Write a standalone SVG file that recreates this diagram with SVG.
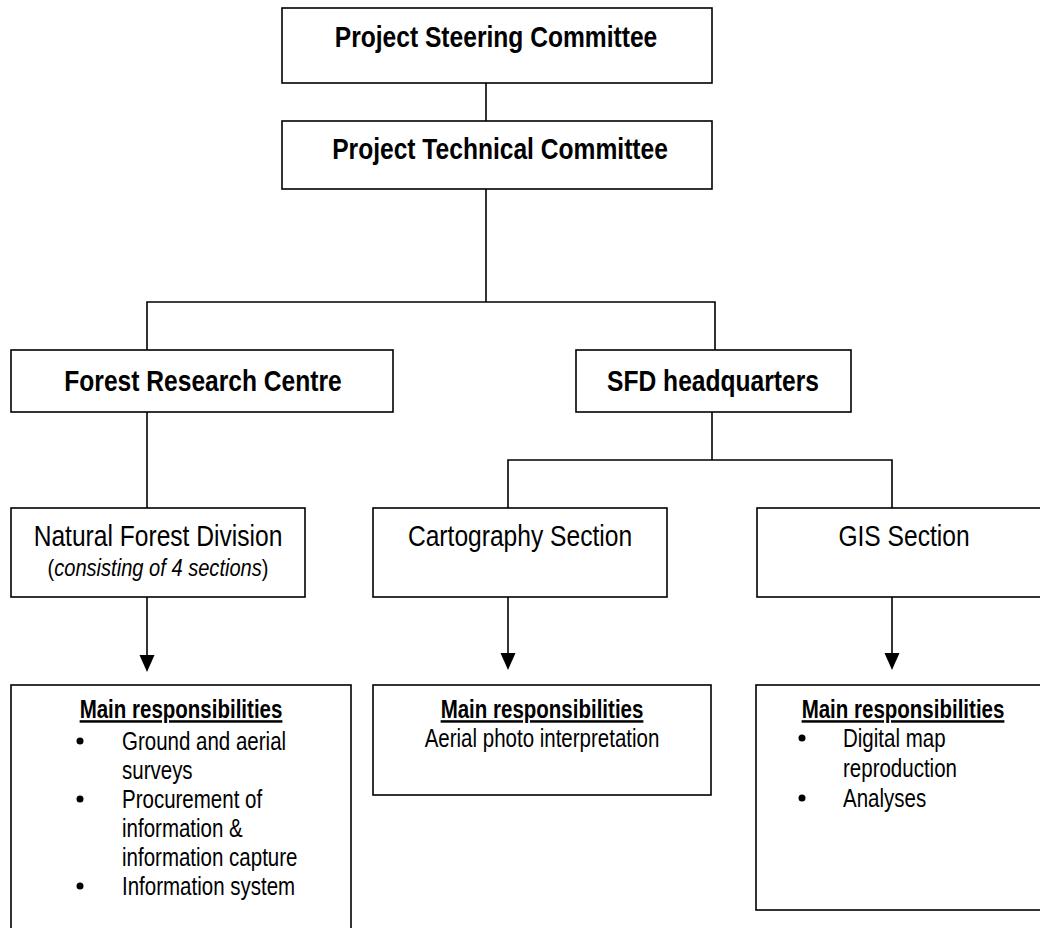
<svg xmlns="http://www.w3.org/2000/svg" width="1040" height="928" viewBox="0 0 1040 928">
<style>
  .box { fill: #ffffff; stroke: #000000; stroke-width: 1.6; }
  .ln { fill: none; stroke: #000000; stroke-width: 1.6; }
  text { font-family: "Liberation Sans", Arial, sans-serif; fill: #000000; }
  .hb { font-size: 30px; font-weight: bold; text-anchor: middle; }
  .hr { font-size: 30px; text-anchor: middle; }
  .it { font-size: 24.5px; text-anchor: middle; }
  .rt { font-size: 25px; font-weight: bold; text-anchor: middle; text-decoration: underline; }
  .rr { font-size: 25px; }
  .rc { font-size: 25px; text-anchor: middle; }
</style>
<g id="connectors">
  <line class="ln" x1="486" y1="83" x2="486" y2="121"/>
  <line class="ln" x1="486" y1="189" x2="486" y2="302"/>
  <polyline class="ln" points="147,350 147,302 715,302 715,350"/>
  <line class="ln" x1="147" y1="412" x2="147" y2="508"/>
  <line class="ln" x1="712" y1="412" x2="712" y2="460"/>
  <polyline class="ln" points="508,508 508,460 892,460 892,508"/>
  <path class="ln" d="M147,597 V655"/>
  <path d="M139.5,655 L154.5,655 L147,672 Z" fill="#000"/>
  <path class="ln" d="M508,597 V653"/>
  <path d="M500.5,653 L515.5,653 L508,670 Z" fill="#000"/>
  <path class="ln" d="M892,597 V653"/>
  <path d="M884.5,653 L899.5,653 L892,670 Z" fill="#000"/>
</g>
<g id="steering">
  <rect class="box" x="282" y="8" width="430" height="75"/>
  <text class="hb" transform="translate(496,47) scale(0.82,1)">Project Steering Committee</text>
</g>
<g id="technical">
  <rect class="box" x="282" y="121" width="430" height="68"/>
  <text class="hb" transform="translate(500,159) scale(0.82,1)">Project Technical Committee</text>
</g>
<g id="frc">
  <rect class="box" x="11" y="350" width="382" height="62"/>
  <text class="hb" transform="translate(203,391) scale(0.82,1)">Forest Research Centre</text>
</g>
<g id="sfd">
  <rect class="box" x="576" y="350" width="275" height="62"/>
  <text class="hb" transform="translate(713,391) scale(0.82,1)">SFD headquarters</text>
</g>
<g id="nfd">
  <rect class="box" x="11" y="508" width="294" height="89"/>
  <text class="hr" transform="translate(158,546) scale(0.82,1)">Natural Forest Division</text>
  <text class="it" transform="translate(158,576) scale(0.82,1)">(<tspan font-style="italic">consisting of 4 sections</tspan>)</text>
</g>
<g id="cartography">
  <rect class="box" x="373" y="508" width="294" height="89"/>
  <text class="hr" transform="translate(520,546) scale(0.82,1)">Cartography Section</text>
</g>
<g id="gis">
  <rect class="box" x="757" y="508" width="300" height="89"/>
  <text class="hr" transform="translate(904,546) scale(0.82,1)">GIS Section</text>
</g>
<g id="resp-nfd">
  <rect class="box" x="11" y="685" width="340" height="260"/>
  <text class="rt" transform="translate(181,718) scale(0.82,1)">Main responsibilities</text>
  <circle cx="80" cy="741" r="3.5"/>
  <text class="rr" transform="translate(122,750) scale(0.82,1)">Ground and aerial</text>
  <text class="rr" transform="translate(122,779) scale(0.82,1)">surveys</text>
  <circle cx="80" cy="799" r="3.5"/>
  <text class="rr" transform="translate(122,808) scale(0.82,1)">Procurement of</text>
  <text class="rr" transform="translate(122,837) scale(0.82,1)">information &amp;</text>
  <text class="rr" transform="translate(122,866) scale(0.82,1)">information capture</text>
  <circle cx="80" cy="886" r="3.5"/>
  <text class="rr" transform="translate(122,895) scale(0.82,1)">Information system</text>
</g>
<g id="resp-cartography">
  <rect class="box" x="373" y="685" width="338" height="110"/>
  <text class="rt" transform="translate(542,718) scale(0.82,1)">Main responsibilities</text>
  <text class="rc" transform="translate(542,747) scale(0.82,1)">Aerial photo interpretation</text>
</g>
<g id="resp-gis">
  <rect class="box" x="756" y="685" width="300" height="225"/>
  <text class="rt" transform="translate(903,718) scale(0.82,1)">Main responsibilities</text>
  <circle cx="802" cy="738" r="3.5"/>
  <text class="rr" transform="translate(843,747) scale(0.82,1)">Digital map</text>
  <text class="rr" transform="translate(843,777) scale(0.82,1)">reproduction</text>
  <circle cx="802" cy="798" r="3.5"/>
  <text class="rr" transform="translate(843,807) scale(0.82,1)">Analyses</text>
</g>
</svg>
